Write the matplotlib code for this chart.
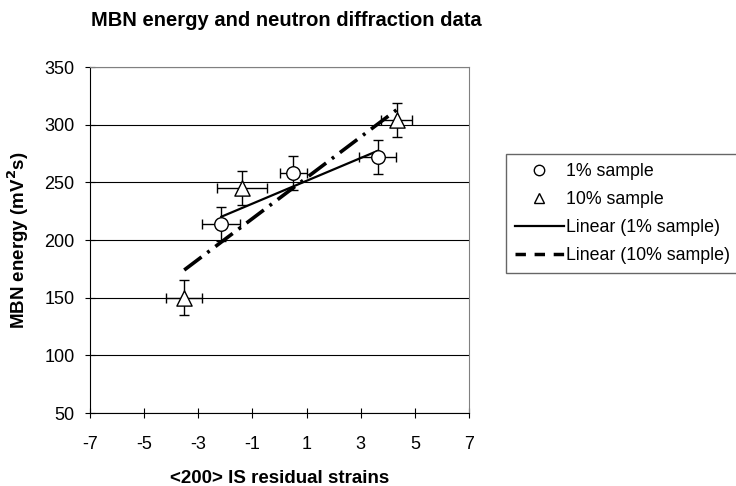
import numpy as np
import matplotlib.pyplot as plt

plt.rcParams['font.family'] = ['Liberation Sans', 'DejaVu Sans']
plt.rcParams['axes.unicode_minus'] = False

# 1% sample
x1 = [-2.15, 0.5, 3.62]
y1 = [214, 258, 272]
x1_err = [0.7, 0.5, 0.67]
y1_err = [15, 15, 15]

# 10% sample
x10 = [-3.52, -1.38, 4.33]
y10 = [150, 245, 304]
x10_err = [0.67, 0.93, 0.57]
y10_err = [15, 15, 15]

fig = plt.figure(figsize=(7.36, 4.86), dpi=100)
ax = fig.add_axes([0.1223, 0.150, 0.515, 0.712])

ax.set_xlim(-7, 7)
ax.set_ylim(50, 350)
ax.set_xticks(np.arange(-7, 8, 2))
ax.set_yticks(np.arange(50, 351, 50))
ax.yaxis.grid(True, color='black', linewidth=0.8)
ax.set_axisbelow(True)
for side in ['top', 'right']:
    ax.spines[side].set_color('#808080')
for side in ['left', 'bottom']:
    ax.spines[side].set_color('black')
ax.tick_params(labelsize=13, direction='inout', length=7)
ax.tick_params(axis='x', pad=13)
ax.tick_params(axis='y', pad=7.5)

eb_kw = dict(fmt='none', ecolor='black', elinewidth=1, capsize=3.3, capthick=1, zorder=2)
ax.errorbar(x1, y1, xerr=x1_err, yerr=y1_err, **eb_kw)
ax.errorbar(x10, y10, xerr=x10_err, yerr=y10_err, **eb_kw)

# linear trendlines over the data range
p1 = np.polyfit(x1, y1, 1)
xs1 = np.array([min(x1), max(x1)])
p10 = np.polyfit(x10, y10, 1)
xs10 = np.array([min(x10), max(x10)])
ax.plot(xs1, np.polyval(p1, xs1), color='black', lw=1.6, zorder=3)
ax.plot(xs10, np.polyval(p10, xs10), color='black', lw=2.6, zorder=3,
        dashes=(6, 2, 0.8, 2))

ax.scatter(x1, y1, marker='o', s=95, facecolor='white', edgecolor='black',
           linewidth=1, zorder=4)
ax.scatter(x10, y10, marker='^', s=120, facecolor='white', edgecolor='black',
           linewidth=1, zorder=4)

fig.text(0.389, 0.957, 'MBN energy and neutron diffraction data', ha='center',
         va='center', fontsize=14.5, fontweight='bold')
ax.set_xlabel('<200> IS residual strains', fontsize=13.5, fontweight='bold', labelpad=12)
ax.set_ylabel('MBN energy (mV$^\\mathbf{2}$s)', fontsize=13.5, fontweight='bold', labelpad=10)

h_m1 = plt.Line2D([], [], marker='o', ls='none', mfc='white', mec='black', ms=7.5)
h_m10 = plt.Line2D([], [], marker='^', ls='none', mfc='white', mec='black', ms=7.5)
h_l1 = plt.Line2D([], [], color='black', lw=1.6)
h_l10 = plt.Line2D([], [], color='black', lw=2.5, dashes=(3, 2.5))
leg = fig.legend([h_m1, h_m10, h_l1, h_l10],
                 ['1% sample', '10% sample', 'Linear (1% sample)', 'Linear (10% sample)'],
                 loc='upper left', bbox_to_anchor=(506 / 736, 1 - 154 / 486),
                 fontsize=12.8, frameon=True, fancybox=False, handlelength=2.75,
                 handletextpad=0.15, borderpad=0.5, labelspacing=0.63, borderaxespad=0)
leg.get_frame().set_edgecolor('#404040')
leg.get_frame().set_linewidth(1)

fig.savefig('out.png', dpi=100)
